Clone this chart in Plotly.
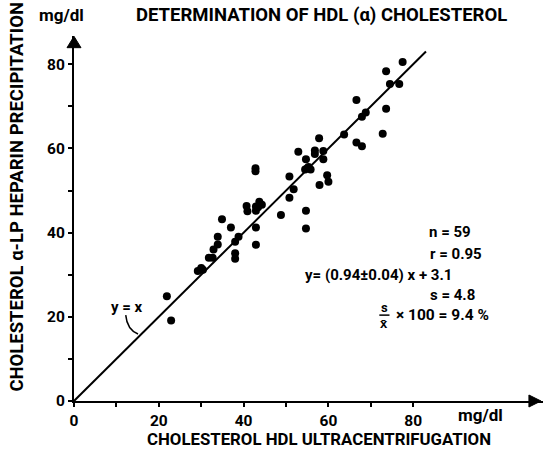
import plotly.graph_objects as go

# Cholesterol HDL by ultracentrifugation (x) vs alpha-LP heparin precipitation (y), mg/dl
x_uc = [21.9, 22.9, 29.2, 30.0, 30.4, 31.8, 32.7, 32.9, 33.9, 33.9, 34.9, 37.0, 38.0, 38.8,
        38.0, 38.0, 40.7, 40.9, 42.9, 42.9, 42.9, 42.9, 43.4, 43.7, 44.3, 42.8, 42.8, 48.8,
        50.8, 50.8, 51.8, 52.9, 54.7, 56.8, 56.8, 57.8, 58.8, 58.8, 54.5, 55.0, 55.3, 55.8,
        59.7, 60.0, 57.9, 54.7, 54.7, 63.7, 66.6, 67.9, 66.6, 67.9, 68.8, 72.8, 73.6, 73.6,
        74.5, 76.7, 77.5]
y_hp = [24.9, 19.1, 30.9, 31.6, 31.2, 34.0, 34.0, 36.0, 37.2, 39.0, 43.2, 41.2, 37.8, 39.0,
        35.1, 33.8, 46.3, 45.1, 41.2, 37.1, 46.2, 45.2, 46.0, 47.3, 46.6, 55.3, 54.6, 44.2,
        48.3, 53.3, 50.3, 59.2, 57.4, 59.5, 58.7, 62.4, 59.4, 57.4, 55.0, 55.3, 55.6, 55.0,
        53.6, 52.1, 51.3, 45.2, 41.0, 63.3, 61.4, 60.5, 71.5, 67.5, 68.5, 63.5, 69.4, 78.3,
        75.3, 75.3, 80.5]
identity_x = [0, 83]
identity_y = [0, 83]
tick_vals = [0, 10, 20, 30, 40, 50, 60, 70, 80]
tick_text = ["0", "", "20", "", "40", "", "60", "", "80"]
stats_lines = ["n = 59", "r = 0.95", "y= (0.94\u00b10.04) x + 3.1", "s = 4.8"]

FONT = "Roboto, Liberation Sans, sans-serif"
BF = dict(family=FONT, color="black", weight="bold")

fig = go.Figure()
fig.add_trace(go.Scatter(x=identity_x, y=identity_y, mode="lines",
                         line=dict(color="black", width=2), hoverinfo="skip"))
fig.add_trace(go.Scatter(x=x_uc, y=y_hp, mode="markers",
                         marker=dict(color="black", size=8)))

XMAX = 110.6
YMAX = 86.7
axis_common = dict(showgrid=False, zeroline=False, showline=True, linecolor="black",
                   linewidth=2, ticks="outside", ticklen=4, tickwidth=1.5,
                   tickcolor="black", tickvals=tick_vals, ticktext=tick_text,
                   tickfont=dict(size=15.5, **BF))
fig.update_layout(
    width=543, height=449,
    margin=dict(l=74, r=0, t=36, b=48),
    paper_bgcolor="white", plot_bgcolor="white",
    showlegend=False,
    xaxis=dict(range=[0, XMAX], **axis_common),
    yaxis=dict(range=[0, YMAX], **axis_common),
)

# arrowheads on the axes (paper coordinates, not clipped)
fig.add_shape(type="path", xref="paper", yref="paper",
              path="M 0.9957,0 L 0.970,0.0164 L 0.970,-0.0164 Z",
              fillcolor="black", line=dict(color="black", width=1))
fig.add_shape(type="path", xref="paper", yref="paper",
              path="M 0,0.999 L 0.0149,0.968 L -0.0149,0.968 Z",
              fillcolor="black", line=dict(color="black", width=1))

# y = x label with curved leader
fig.add_shape(type="path", xref="x", yref="y",
              path="M 12.2,20.4 Q 12.5,17.0 15.1,15.9",
              line=dict(color="black", width=1.5))

ann = []
def A(text, x, y, size, xanchor="center", angle=0, ref="x"):
    ann.append(dict(text=text, x=x, y=y,
                    xref="x" if ref == "x" else "paper",
                    yref="y" if ref == "x" else "paper",
                    showarrow=False,
                    xanchor=xanchor, yanchor="middle", textangle=angle,
                    font=dict(size=size, **BF)))

A("y = x", 12.5, 22.3, 15)
A("DETERMINATION OF HDL (\u03b1) CHOLESTEROL", 0.527, 1.058, 18.5, ref="p")
A("mg/dl", -0.026, 1.058, 17, ref="p")
A("mg/dl", 0.866, -0.038, 17, ref="p")
A("CHOLESTEROL HDL ULTRACENTRIFUGATION", 0.522, -0.104, 16.8, ref="p")
A("CHOLESTEROL \u03b1-LP HEPARIN PRECIPITATION", -0.1215, 0.56, 18.5, angle=-90, ref="p")

stat_pos = [(83.2, 40.1), (83.5, 34.9), (54.0, 29.9), (83.5, 25.2)]
for t, (sx, sy) in zip(stats_lines, stat_pos):
    A(t, sx, sy, 15, xanchor="left")
A("s", 73.2, 22.3, 13)
A("x\u0304", 73.2, 18.5, 13)
fig.add_shape(type="line", xref="x", yref="y", x0=72.0, x1=74.4, y0=20.4, y1=20.4,
              line=dict(color="black", width=1.5))
A("\u00d7 100 = 9.4 %", 75.4, 20.4, 15.5, xanchor="left")

fig.update_layout(annotations=ann)
fig.write_html("out.html", config={"displayModeBar": False},
               post_script="document.body.style.margin='0';document.body.style.overflow='hidden';")
